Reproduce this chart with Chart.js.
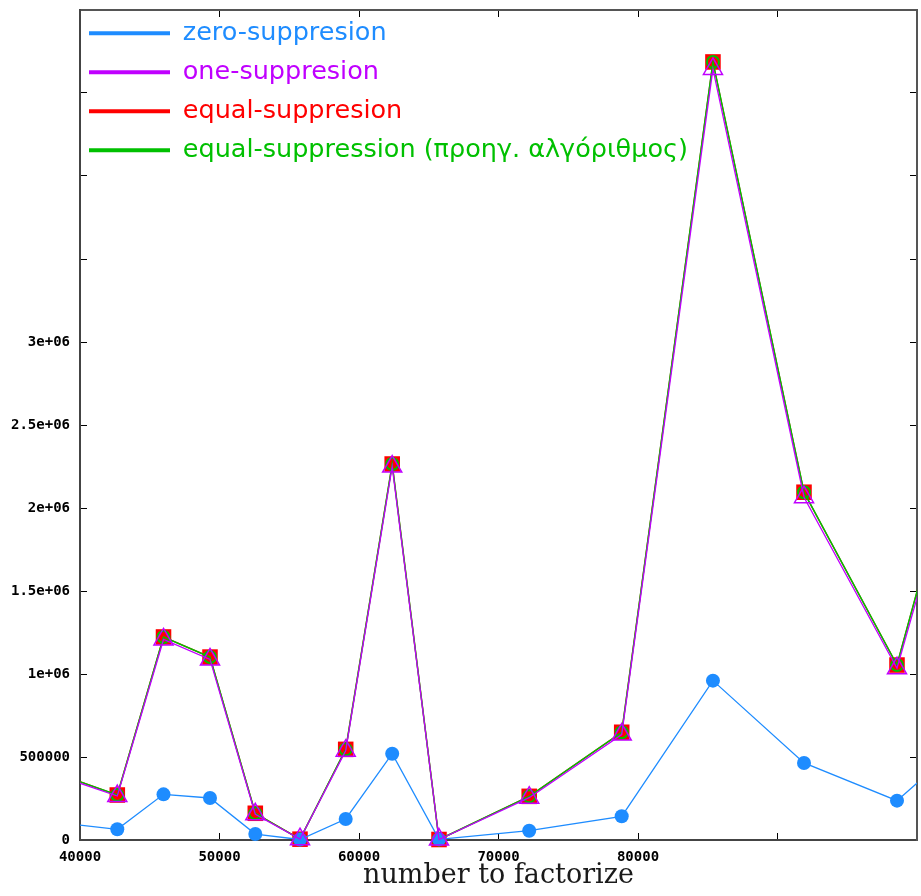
<!DOCTYPE html>
<html>
<head>
<meta charset="utf-8">
<script src="https://cdn.jsdelivr.net/npm/chart.js@4.4.1/dist/chart.umd.min.js"></script>
<style>
  html, body { margin: 0; padding: 0; background: #ffffff; }
  #wrap { width: 921px; height: 896px; }
</style>
</head>
<body>
<div id="wrap"><canvas id="c" width="921" height="896"></canvas></div>
<script>
// ---- data ----
const numbers = [39100, 42674, 45986, 49319, 52566, 55771, 59047, 62380, 65735, 72201, 78832, 85373, 91900, 98566, 105000];
const zeroSuppresion = [98600, 64500, 275000, 253000, 36000, 3000, 126500, 520000, 4000, 56000, 142800, 960000, 464000, 237000, 712500];
const oneSuppresion = [367500, 265000, 1208000, 1088000, 155000, 5000, 538000, 2250000, 3000, 255000, 635000, 4645000, 2065000, 1035000, 2933000];
const equalSuppresion = [378000, 271000, 1223000, 1102000, 161000, 5000, 546000, 2265000, 3000, 263000, 649000, 4687000, 2095000, 1054000, 3037000];
const equalSuppressionPrev = [378000, 271000, 1223000, 1102000, 161000, 5000, 546000, 2265000, 3000, 263000, 649000, 4687000, 2095000, 1054000, 3037000];
const seriesNames = ['zero-suppresion', 'one-suppresion', 'equal-suppresion', 'equal-suppression (προηγ. αλγόριθμος)'];
const xTickLabels = ['40000', '50000', '60000', '70000', '80000', '', ''];
const yTickLabels = ['0', '500000', '1e+06', '1.5e+06', '2e+06', '2.5e+06', '3e+06', '', '', '', ''];
const xTitle = 'number to factorize';

const colors = ['#1e8cff', '#c000ff', '#ff0000', '#00c000'];

function pts(arr) { return numbers.map((n, i) => ({x: n, y: arr[i]})); }
const clipOpt = {left: 0, right: 0, top: 20, bottom: 20};

const tickFontMono = {family: 'DejaVu Sans Mono', size: 14, weight: 'bold'};

function mirrorGrid() {
  return {drawOnChartArea: false, drawTicks: true, tickLength: -7, color: '#000', lineWidth: 1};
}
function noPad(s) { s.paddingTop = 0; s.paddingBottom = 0; s.paddingLeft = 0; s.paddingRight = 0; }

const legendShift = {
  id: 'legendShift',
  beforeDraw(chart) {
    if (chart.legend) {
      chart.legend.left = chart.chartArea.left - 4.5;
      chart.legend.top = chart.chartArea.top - 3;
    }
  }
};

new Chart(document.getElementById('c'), {
  type: 'line',
  data: {
    datasets: [
      {label: seriesNames[0], data: pts(zeroSuppresion), borderColor: colors[0], backgroundColor: colors[0],
       borderWidth: 1.3, pointStyle: 'circle', pointRadius: 7, pointBackgroundColor: colors[0], pointBorderWidth: 0,
       order: 2, clip: clipOpt},
      {label: seriesNames[1], data: pts(oneSuppresion), borderColor: colors[1], backgroundColor: colors[1],
       borderWidth: 1.3, pointStyle: 'triangle', pointRadius: 11, pointBackgroundColor: 'rgba(0,0,0,0)',
       pointBorderColor: colors[1], pointBorderWidth: 1.5, order: 1, clip: clipOpt},
      {label: seriesNames[2], data: pts(equalSuppresion), borderColor: colors[2], backgroundColor: colors[2],
       borderWidth: 1.3, pointStyle: 'rect', pointRadius: 11, pointBackgroundColor: colors[2], pointBorderWidth: 0,
       order: 4, clip: clipOpt},
      {label: seriesNames[3], data: pts(equalSuppressionPrev), borderColor: colors[3], backgroundColor: colors[3],
       borderWidth: 1.5, pointStyle: 'circle', pointRadius: 6, pointBackgroundColor: 'rgba(0,0,0,0)',
       pointBorderColor: colors[3], pointBorderWidth: 2, order: 3, clip: clipOpt}
    ]
  },
  options: {
    responsive: false,
    animation: false,
    events: [],
    layout: {padding: 0, autoPadding: false},
    elements: {line: {tension: 0}},
    plugins: {
      tooltip: {enabled: false},
      legend: {
        display: true,
        position: 'chartArea',
        align: 'start',
        sort: (a, b) => a.datasetIndex - b.datasetIndex,
        labels: {
          boxWidth: 81,
          boxHeight: 4,
          padding: 13.5,
          font: {family: 'DejaVu Sans', size: 25.5},
          generateLabels(chart) {
            return chart.data.datasets.map((ds, i) => ({
              text: ds.label,
              fillStyle: colors[i],
              strokeStyle: colors[i],
              fontColor: colors[i],
              lineWidth: 0,
              hidden: false,
              datasetIndex: i
            }));
          }
        }
      }
    },
    scales: {
      x: {
        type: 'linear', position: 'bottom', min: 40000, max: 100000,
        afterBuildTicks(s) { s.ticks = xTickLabels.map((_, i) => ({value: 40000 + i * 10000})); },
        ticks: {
          autoSkip: false, maxRotation: 0, minRotation: 0, padding: 16, color: '#000', font: tickFontMono,
          callback: (v, i) => xTickLabels[i]
        },
        grid: mirrorGrid(),
        border: {display: true, color: '#444', width: 2},
        title: {display: true, text: xTitle, color: '#1a1a1a',
                font: {family: 'DejaVu Serif', size: 27}, padding: {top: 0, bottom: 4}},
        afterFit(s) { s.height = 56; noPad(s); }
      },
      x2: {
        type: 'linear', axis: 'x', position: 'top', min: 40000, max: 100000,
        afterBuildTicks(s) { s.ticks = xTickLabels.map((_, i) => ({value: 40000 + i * 10000})); },
        ticks: {display: false},
        grid: mirrorGrid(),
        border: {display: true, color: '#555', width: 2},
        afterFit(s) { s.height = 10; noPad(s); }
      },
      y: {
        type: 'linear', position: 'left', min: 0, max: 5000000,
        afterBuildTicks(s) { s.ticks = yTickLabels.map((_, i) => ({value: i * 500000})); },
        ticks: {
          autoSkip: false, padding: 17, color: '#000', font: tickFontMono,
          callback: (v, i) => yTickLabels[i]
        },
        grid: mirrorGrid(),
        border: {display: true, color: '#444', width: 2},
        afterFit(s) { s.width = 80; noPad(s); }
      },
      y2: {
        type: 'linear', axis: 'y', position: 'right', min: 0, max: 5000000,
        afterBuildTicks(s) { s.ticks = yTickLabels.map((_, i) => ({value: i * 500000})); },
        ticks: {display: false},
        grid: mirrorGrid(),
        border: {display: true, color: '#555', width: 2},
        afterFit(s) { s.width = 4; noPad(s); }
      }
    }
  },
  plugins: [legendShift]
});
</script>
</body>
</html>
